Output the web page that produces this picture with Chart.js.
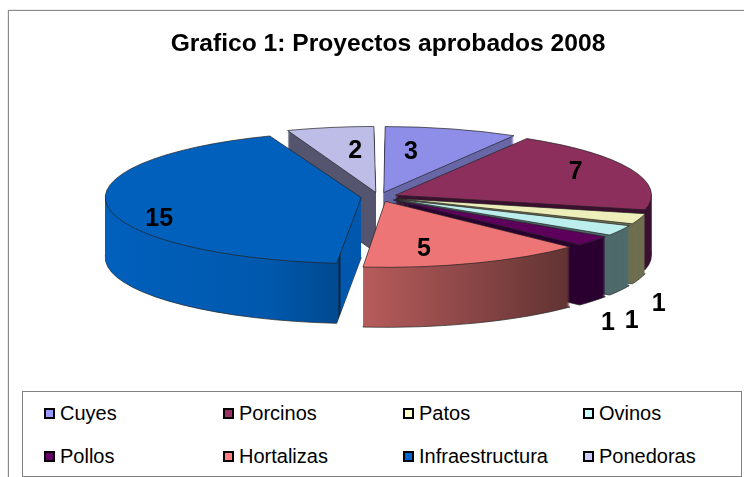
<!DOCTYPE html>
<html>
<head>
<meta charset="utf-8">
<script src="https://cdn.jsdelivr.net/npm/chart.js@4"></script>
<style>
    body { margin: 0; background: #fff; }
    #wrap { position: relative; width: 744px; height: 477px; overflow: hidden; }
    #frame { position: absolute; left: 8px; top: 10px; width: 760px; height: 500px; border: 1px solid #8a8a8a; box-shadow: 0 0 1px #8a8a8a; }
    canvas { position: absolute; left: 0; top: 0; }
    #legendBox { position: absolute; left: 22px; top: 391px; width: 718px; height: 84px; border: 1px solid #808080; background: #fff; }
    .item { position: absolute; font: 20px "Liberation Sans", Arial, sans-serif; line-height: 22px; white-space: nowrap; color: #000; }
    .swatch { position: absolute; width: 7px; height: 7px; border: 2px solid #000; }
</style>
</head>
<body>
<div id="wrap">
    <div id="frame"></div>
    <canvas id="pieChart" width="744" height="477"></canvas>
    <div id="legendBox"></div>
</div>
<script>
// chart data
const categories = ['Cuyes', 'Porcinos', 'Patos', 'Ovinos', 'Pollos', 'Hortalizas', 'Infraestructura', 'Ponedoras'];
const proyectos = [3, 7, 1, 1, 1, 5, 15, 2];

// colours
const legendColors = ['#9999ff', '#993366', '#ffffcc', '#ccffff', '#660066', '#ff8080', '#0066cc', '#ccccff'];
const topColors = ['#8e8ee8', '#8c2f5c', '#eeeebb', '#bdeeee', '#5c005c', '#ee7575', '#0060bc', '#bdbde8'];
// side of each slice, [screen x, colour] stops
const sideColors = [
    [[0, '#6868a8']],
    [[0, '#3c1030']],
    [[0, '#6e6e50']],
    [[0, '#4f6a6c']],
    [[0, '#2a0030']],
    [[361, '#b85c5c'], [572, '#603232']],
    [[105, '#0060bc'], [270, '#0058ac'], [338, '#004a90'], [339, '#10243c'], [340, '#10243c'], [341, '#0058ae']],
    [[0, '#55556f']],
];

// 3D look
const pieX = 379, pieY = 197, pieW = 256, pieH = 66, pieDepth = 60;
const sliceOffset = 28;
const paintOrder = [7, 0, 1, 2, 3, 4, 6, 5];
// label position, relative to the middle of the slice
const labelShift = [[-2, -13], [79, -12], [158, 97], [140, 108], [129, 106], [0, 21], [-93, 18], [-1, -13]];

// legend layout
const legendCols = [44, 223, 403, 583];
const legendRows = [413, 456];

// make a horizontal gradient out of screen x stops
function sideFill(ctx, stops, toLocal) {
    if (stops.length === 1) return stops[0][1];
    const first = stops[0][0], last = stops[stops.length - 1][0] + 30;
    const g = ctx.createLinearGradient(toLocal(first), 0, toLocal(last), 0);
    stops.forEach(s => g.addColorStop((s[0] - first) / (last - first), s[1]));
    return g;
}

// draws one arc with other options, leaving the real element alone
function drawArc(arc, ctx, extra) {
    const copy = Object.create(arc);
    copy.options = { ...arc.options, ...extra };
    // chart.js grows small slices when they have an offset, take that back
    const fix = 1 - Math.sin(Math.min(Math.PI, arc.circumference));
    copy.outerRadius = arc.outerRadius - sliceOffset / 4 * fix;
    arc.draw.call(copy, ctx);
}

const pie3d = {
    id: 'pie3d',
    beforeDatasetsDraw(chart) {
        const ctx = chart.ctx;
        const arcs = chart.getDatasetMeta(0).data;
        const cx = arcs[0].x, cy = arcs[0].y, r = arcs[0].outerRadius;
        const sx = pieW / r, sy = pieH / r;

        // keep line width even although the pie is squashed
        const realStroke = ctx.stroke;
        ctx.stroke = function () {
            ctx.save();
            ctx.setTransform(1, 0, 0, 1, 0, 0);
            realStroke.call(ctx);
            ctx.restore();
        };

        paintOrder.forEach(i => {
            const arc = arcs[i];
            // the arc moves itself by the offset when drawn, so the gradient has to go against it
            const moved = Math.cos((arc.startAngle + arc.endAngle) / 2) * sliceOffset / 4;
            const toLocal = x => cx + (x - pieX) / sx - moved;
            const fill = sideFill(ctx, sideColors[i], toLocal);
            for (let d = pieDepth; d >= 0; d--) {
                ctx.save();
                ctx.translate(pieX, pieY + d);
                ctx.scale(sx, sy);
                ctx.translate(-cx, -cy);
                if (d === 0) drawArc(arc, ctx, {});
                else if (d === pieDepth) drawArc(arc, ctx, { backgroundColor: fill });
                else drawArc(arc, ctx, { backgroundColor: fill, borderWidth: 0 });
                ctx.restore();
            }
        });
        delete ctx.stroke;

        // value labels
        ctx.save();
        ctx.fillStyle = '#000';
        ctx.font = 'bold 25px "Liberation Sans", Arial, sans-serif';
        ctx.textAlign = 'center';
        ctx.textBaseline = 'middle';
        arcs.forEach((arc, i) => {
            const mid = (arc.startAngle + arc.endAngle) / 2;
            const x = pieX + Math.cos(mid) * pieW / 2 + labelShift[i][0];
            const y = pieY + Math.sin(mid) * pieH / 2 + labelShift[i][1];
            ctx.fillText(String(proyectos[i]), x, y);
        });
        ctx.restore();
        return false;
    },
};

// legend
const wrap = document.getElementById('wrap');
categories.forEach((name, i) => {
    const x = legendCols[i % 4], y = legendRows[Math.floor(i / 4)];
    const swatch = document.createElement('div');
    swatch.className = 'swatch';
    swatch.style.left = x + 'px';
    swatch.style.top = (y - 5) + 'px';
    swatch.style.background = legendColors[i];
    wrap.appendChild(swatch);
    const item = document.createElement('div');
    item.className = 'item';
    item.textContent = name;
    item.style.left = (x + 16) + 'px';
    item.style.top = (y - 11) + 'px';
    wrap.appendChild(item);
});

new Chart(document.getElementById('pieChart').getContext('2d'), {
    type: 'pie',
    data: {
        labels: categories,
        datasets: [{
            data: proyectos,
            backgroundColor: topColors,
            borderColor: '#222',
            borderWidth: 0.7,
            offset: sliceOffset,
        }],
    },
    options: {
        responsive: false,
        animation: false,
        radius: 100,
        layout: { padding: { left: 32 } },
        plugins: {
            legend: { display: false },
            tooltip: { enabled: false },
            title: {
                display: true,
                text: 'Grafico 1: Proyectos aprobados 2008',
                color: '#000',
                font: { family: '"Liberation Sans", Arial, sans-serif', size: 24.6, weight: 'bold' },
                padding: { top: 29, bottom: 10 },
            },
        },
    },
    plugins: [pie3d],
});
</script>
</body>
</html>
